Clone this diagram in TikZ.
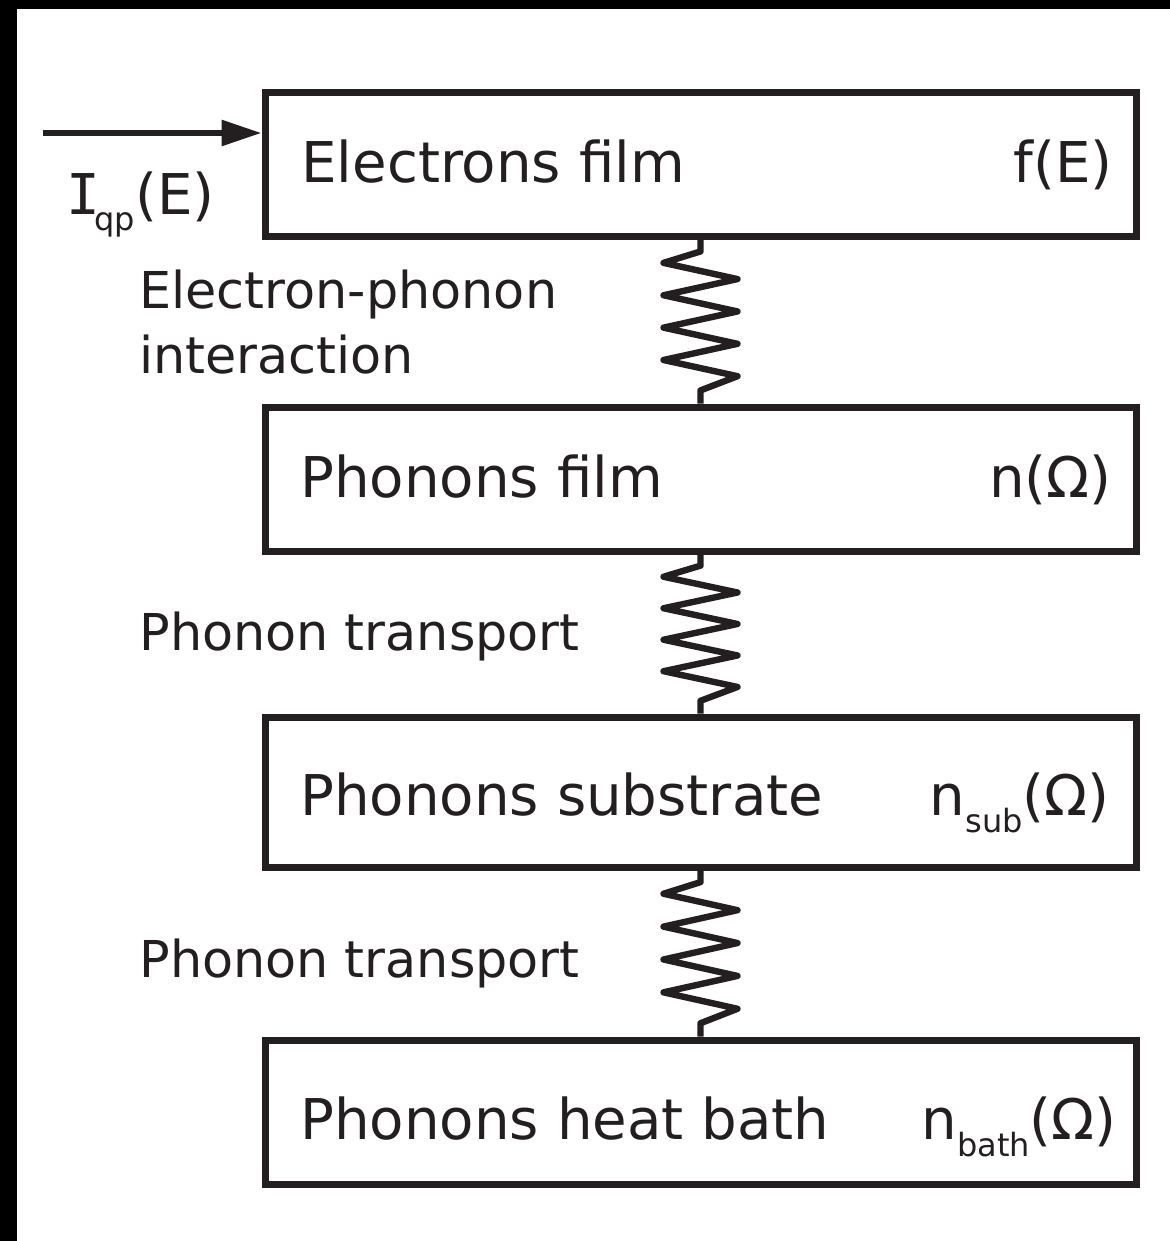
\documentclass[tikz,border=0pt]{standalone}
\usepackage{fontspec}
\setmainfont{DejaVu Sans}
\newfontfamily\monofam{DejaVu Sans Mono}
\usetikzlibrary{arrows.meta,calc}
\definecolor{inkcol}{RGB}{35,31,32}
\tikzset{
  statebox/.style={draw=inkcol, line width=3.5pt, minimum width=435.5pt, minimum height=72pt, inner sep=0pt},
  boxtxt/.style={inkcol, inner sep=0pt, font=\fontsize{28.1pt}{34pt}\selectfont},
  sidetxt/.style={inkcol, inner sep=0pt, font=\fontsize{25.4pt}{32pt}\selectfont},
  springline/.style={draw=inkcol, line width=3.2pt, line join=round},
  feedln/.style={-{Triangle[length=20pt,width=12.5pt]}, draw=inkcol, line width=3pt},
}
% lowered subscript as in the original figure
\newcommand{\lsub}[1]{\raisebox{-8.5pt}{\fontsize{16pt}{18pt}\selectfont #1}}
% zigzag spring between two boxes
\newcommand{\zigspring}[2]{%
  \draw[springline] (#1.south) -- ($(#1.south)!0.07!(#2.north)$)
    \foreach \k in {0,...,7}{
      -- ($(#1.south)!0.14+0.099*\k!(#2.north) + ({37*(2*mod(\k,2)-1)},0)$)
    }
    -- ($(#1.south)!0.92!(#2.north)$) -- (#2.north);
}
\begin{document}
\begin{tikzpicture}[x=0.5pt, y=-0.5pt]
    \useasboundingbox (0,0) rectangle (1170,1241);
    \fill[white] (0,0) rectangle (1170,1241);
    % frame strips
    \fill[black] (0,0) rectangle (1170,9);
    \fill[black] (0,0) rectangle (17,1241);
    % Boxes
    \node[statebox] (elec) at (700.5,164.5) {};
    \node[statebox] (phf) at (700.5,479) {};
    \node[statebox, minimum height=75pt] (phs) at (700.5,792) {};
    \node[statebox] (phb) at (700.5,1112) {};
    % Box texts
    \node[boxtxt, anchor=base west] (elec-t) at (301,183) {Electrons film};
    \node[boxtxt, anchor=base east] (elec-f) at (1113,183) {f(E)};
    \node[boxtxt, anchor=base west] (phf-t) at (300,497) {Phonons film};
    \node[boxtxt, anchor=base east] (phf-f) at (1112,497) {n(Ω)};
    \node[boxtxt, anchor=base west] (phs-t) at (300,815) {Phonons substrate};
    \node[boxtxt, anchor=base east] (phs-f) at (1110,815) {n\lsub{sub}(Ω)};
    \node[boxtxt, anchor=base west] (phb-t) at (300,1139) {Phonons heat bath};
    \node[boxtxt, anchor=base east] (phb-f) at (1117,1139) {n\lsub{bath}(Ω)};
    % Springs
    \zigspring{elec}{phf}
    \zigspring{phf}{phs}
    \zigspring{phs}{phb}
    % Coupling labels
    \node[sidetxt, anchor=base west] (eph1) at (139,308) {Electron-phonon};
    \node[sidetxt, anchor=base west] (eph2) at (139,373) {interaction};
    \node[sidetxt, anchor=base west] (tr1) at (139,650) {Phonon transport};
    \node[sidetxt, anchor=base west] (tr2) at (139,977) {Phonon transport};
    % Injected quasiparticles
    \coordinate (ain) at (43,133);
    \draw[feedln] (ain) -- (ain -| elec.west);
    \node[boxtxt, anchor=base west] (iqp) at (66,214) {{\monofam I}\kern-0.1em\lsub{qp}(E)};
  \end{tikzpicture}
\end{document}
